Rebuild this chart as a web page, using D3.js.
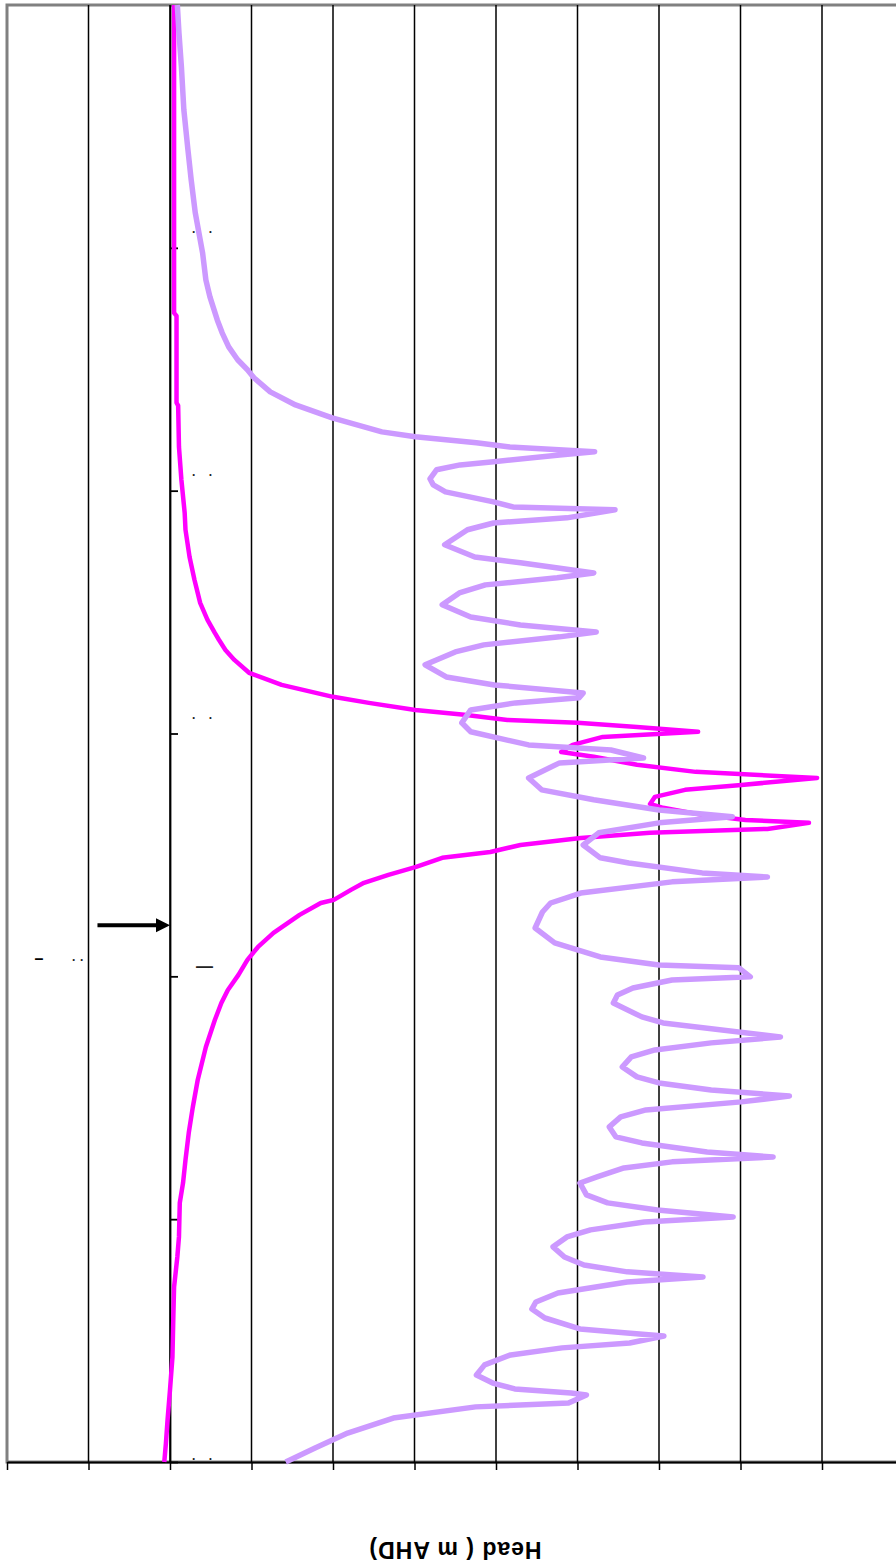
<!DOCTYPE html>
<html>
<head>
<meta charset="utf-8">
<script src="https://cdn.jsdelivr.net/npm/d3@7"></script>
<style>
  body { margin: 0; background: #fff; }
  svg { display: block; }
</style>
</head>
<body>
<div id="chart"></div>
<script>
var width = 896, height = 1567;

// head gridlines (m AHD) and distance ticks
var headTicks = d3.range(-2, 10);
var distTicks = [0, 100, 200, 300, 400, 500];
var distTickText = [". .", "", "\u2014", ". .", ". .", ". ."];
var axisTitle = "Head ( m AHD)";
var arrowDist = 221, arrowFrom = -0.89;

// magenta series
var magentaDist = [600.0, 561.0, 473.2, 472.0, 436.2, 435.0, 418.0, 404.4, 390.9, 383.9,
  372.7, 363.3, 353.8, 346.8, 341.4, 338.6, 334.4, 330.3, 325.0, 320.0,
  315.1, 312.6, 309.7, 307.7, 305.6, 304.4, 302.7, 300.7, 298.6, 295.3,
  292.4, 290.4, 287.1, 284.2, 281.7, 278.8, 276.8, 273.9, 271.0, 269.4,
  266.5, 264.4, 263.2, 260.7, 259.1, 257.0, 254.1, 251.2, 248.8, 245.1,
  241.8, 238.5, 235.6, 231.5, 230.2, 225.3, 217.9, 212.1, 206.8, 200.6,
  194.4, 189.0, 182.0, 170.9, 157.3, 146.2, 135.5, 124.4, 114.9, 106.7,
  92.7, 84.4, 72.1, 58.5, 43.2, 29.7, 17.3, 7.8, 0.0];
var magentaHead = [0.05, 0.05, 0.05, 0.08, 0.08, 0.10, 0.11, 0.14, 0.18, 0.19,
  0.24, 0.30, 0.37, 0.46, 0.55, 0.60, 0.68, 0.79, 0.97, 1.37,
  2.00, 2.44, 3.01, 3.61, 4.14, 5.00, 5.73, 6.48, 5.31, 4.94,
  4.80, 5.20, 5.73, 6.45, 7.94, 7.01, 6.32, 5.95, 5.89, 6.05,
  6.53, 7.06, 7.84, 7.33, 5.89, 5.04, 4.30, 3.93, 3.34, 3.02,
  2.68, 2.38, 2.22, 2.01, 1.85, 1.59, 1.27, 1.08, 0.95, 0.84,
  0.71, 0.63, 0.55, 0.44, 0.34, 0.28, 0.23, 0.19, 0.16, 0.12,
  0.11, 0.09, 0.05, 0.04, 0.03, 0.00, -0.03, -0.05, -0.07];

// light purple series
var purpleDist = [600.0, 588.5, 574.5, 556.8, 540.4, 528.0, 514.4, 497.9, 486.8, 479.8,
  470.3, 465.0, 459.2, 453.9, 449.8, 446.5, 440.7, 435.3, 430.0, 424.2,
  422.2, 419.7, 418.0, 416.0, 414.7, 411.9, 410.6, 408.6, 404.9, 402.4,
  399.5, 395.4, 393.3, 392.1, 388.8, 386.7, 383.9, 377.7, 372.7, 370.3,
  366.1, 364.1, 361.2, 357.9, 353.0, 348.0, 344.7, 341.8, 339.8, 336.5,
  333.6, 328.3, 323.3, 320.0, 316.7, 314.7, 312.6, 309.7, 304.4, 300.7,
  295.3, 293.2, 289.9, 287.9, 281.7, 276.8, 272.7, 268.5, 265.7, 263.2,
  259.1, 254.1, 248.8, 246.7, 242.6, 240.9, 238.9, 234.3, 230.2, 226.5,
  219.9, 213.8, 208.0, 204.7, 203.5, 199.8, 198.5, 195.2, 192.3, 189.0,
  183.3, 180.8, 175.0, 172.6, 169.7, 166.8, 162.7, 158.6, 156.1, 153.2,
  150.7, 148.3, 145.0, 142.1, 138.0, 133.9, 131.4, 127.7, 125.6, 123.6,
  121.1, 117.4, 114.9, 110.0, 106.7, 103.8, 100.9, 98.8, 95.6, 92.7,
  88.6, 84.4, 81.1, 78.3, 76.2, 74.1, 69.6, 65.9, 63.0, 59.3,
  54.8, 53.1, 51.9, 49.0, 47.0, 44.1, 40.0, 35.8, 32.5, 30.1,
  28.4, 27.6, 24.3, 22.7, 18.1, 11.9, 5.8, 0.0];
var purpleHead = [0.09, 0.11, 0.14, 0.17, 0.22, 0.26, 0.31, 0.40, 0.44, 0.49,
  0.58, 0.64, 0.72, 0.83, 0.95, 1.03, 1.23, 1.54, 1.99, 2.60,
  3.01, 3.76, 4.17, 5.21, 4.78, 3.97, 3.56, 3.27, 3.19, 3.23,
  3.38, 3.97, 4.21, 5.46, 4.87, 3.97, 3.65, 3.37, 3.74, 4.30,
  5.20, 4.75, 3.87, 3.55, 3.34, 3.69, 4.30, 5.23, 4.78, 3.85,
  3.50, 3.13, 3.39, 3.98, 5.07, 5.02, 4.24, 3.69, 3.58, 3.69,
  4.40, 5.41, 5.81, 4.78, 4.40, 4.56, 5.20, 6.00, 6.90, 6.00,
  5.26, 5.07, 5.28, 5.63, 6.53, 7.33, 6.16, 5.04, 4.67, 4.57,
  4.48, 4.72, 5.28, 6.00, 6.98, 7.12, 6.16, 5.68, 5.49, 5.44,
  5.79, 6.05, 7.49, 6.64, 5.95, 5.66, 5.55, 5.73, 6.00, 6.64,
  7.60, 7.01, 5.84, 5.53, 5.39, 5.47, 5.79, 6.59, 7.40, 6.16,
  5.57, 5.24, 5.03, 5.11, 5.37, 5.98, 6.91, 5.82, 5.16, 4.87,
  4.70, 4.84, 5.08, 5.61, 6.54, 5.61, 4.76, 4.49, 4.44, 4.60,
  5.03, 5.61, 6.06, 5.64, 4.81, 4.18, 3.86, 3.76, 3.96, 4.23,
  4.92, 5.11, 4.89, 3.75, 2.74, 2.18, 1.78, 1.42];

// SCALES

var x = d3.scaleLinear().domain([-2, 9.5]).range([7, 7 + 81.5 * 11.5]);
var y = d3.scaleLinear().domain([0, 600]).range([1462, 5]);

var svg = d3.select("#chart").append("svg")
    .attr("width", width)
    .attr("height", height);

// plot area border
svg.append("rect")
    .attr("x", x(-2))
    .attr("y", y(600))
    .attr("width", x(9.5) - x(-2))
    .attr("height", y(0) - y(600))
    .style("fill", "none")
    .style("stroke", "#808080")
    .style("stroke-width", 3);

// GRIDLINES
svg.append("g").selectAll("line")
    .data(headTicks.filter(function(d) { return d > -2; }))
    .enter().append("line")
    .attr("x1", function(d) { return x(d); })
    .attr("x2", function(d) { return x(d); })
    .attr("y1", y(0))
    .attr("y2", y(600))
    .style("stroke", "#000")
    .style("stroke-width", 1.5);

// AXES
var xAxis = svg.append("g")
    .attr("transform", "translate(0," + y(0) + ")")
    .call(d3.axisBottom(x).tickValues(headTicks).tickSize(8).tickSizeOuter(0).tickFormat(""));
xAxis.select(".domain").style("stroke", "#000").style("stroke-width", 2.2);
xAxis.selectAll(".tick line").style("stroke", "#000").style("stroke-width", 1.5);

var yAxis = svg.append("g")
    .attr("transform", "translate(" + x(0) + ",0)")
    .call(d3.axisRight(y).tickValues(distTicks).tickSize(8).tickSizeOuter(0).tickFormat(""));
yAxis.select(".domain").style("stroke", "#000").style("stroke-width", 1.8);
yAxis.selectAll(".tick line").style("stroke", "#000").style("stroke-width", 1.8);

// tick label remnants
svg.append("g").selectAll("text")
    .data(distTicks)
    .enter().append("text")
    .attr("x", x(0) + 34.5)
    .attr("y", function(d, i) {
      if (distTickText[i] === "\u2014") return y(d) - 4;
      return d === 0 ? y(d) - 2 : y(d) - 15;
    })
    .attr("text-anchor", "middle")
    .style("font-family", "Liberation Sans, Arial, sans-serif")
    .style("font-size", function(d, i) { return distTickText[i] === "\u2014" ? "17px" : "12px"; })
    .style("font-weight", "bold")
    .style("letter-spacing", function(d, i) { return distTickText[i] === "\u2014" ? "0px" : "5px"; })
    .style("fill", "#222")
    .text(function(d, i) { return distTickText[i]; });

svg.append("text")
    .attr("x", 39)
    .attr("y", y(207) + 5)
    .attr("text-anchor", "middle")
    .style("font-family", "Liberation Sans, Arial, sans-serif")
    .style("font-size", "16px")
    .style("font-weight", "bold")
    .text("\u2013");

svg.append("text")
    .attr("x", 72)
    .attr("y", y(207) + 1.5)
    .style("font-family", "Liberation Sans, Arial, sans-serif")
    .style("font-size", "12px")
    .style("font-weight", "bold")
    .style("letter-spacing", "0.7px")
    .style("fill", "#222")
    .text(". .");

// LINES
var line = d3.line()
    .x(function(d) { return x(d[1]); })
    .y(function(d) { return y(d[0]); });

svg.append("path")
    .datum(d3.zip(magentaDist, magentaHead))
    .attr("d", line)
    .style("fill", "none")
    .style("stroke", "#FF00FF")
    .style("stroke-width", 4.5)
    .style("stroke-linejoin", "round");

svg.append("path")
    .datum(d3.zip(purpleDist, purpleHead))
    .attr("d", line)
    .style("fill", "none")
    .style("stroke", "#CC99FF")
    .style("stroke-width", 5.5)
    .style("stroke-linejoin", "round");

// ARROW
svg.append("line")
    .attr("x1", x(arrowFrom))
    .attr("x2", x(0) - 10)
    .attr("y1", y(arrowDist))
    .attr("y2", y(arrowDist))
    .style("stroke", "#000")
    .style("stroke-width", 4);

svg.append("path")
    .attr("d", "M" + x(0) + "," + y(arrowDist) +
               "L" + (x(0) - 14) + "," + (y(arrowDist) - 7) +
               "L" + (x(0) - 14) + "," + (y(arrowDist) + 7) + "Z")
    .style("fill", "#000");

// AXIS TITLE (upside down)
svg.append("text")
    .attr("transform", "translate(455,1542) rotate(180)")
    .attr("text-anchor", "middle")
    .style("font-family", "Liberation Sans, Arial, sans-serif")
    .style("font-size", "23px")
    .style("font-weight", "bold")
    .style("letter-spacing", "1px")
    .text(axisTitle);
</script>
</body>
</html>
